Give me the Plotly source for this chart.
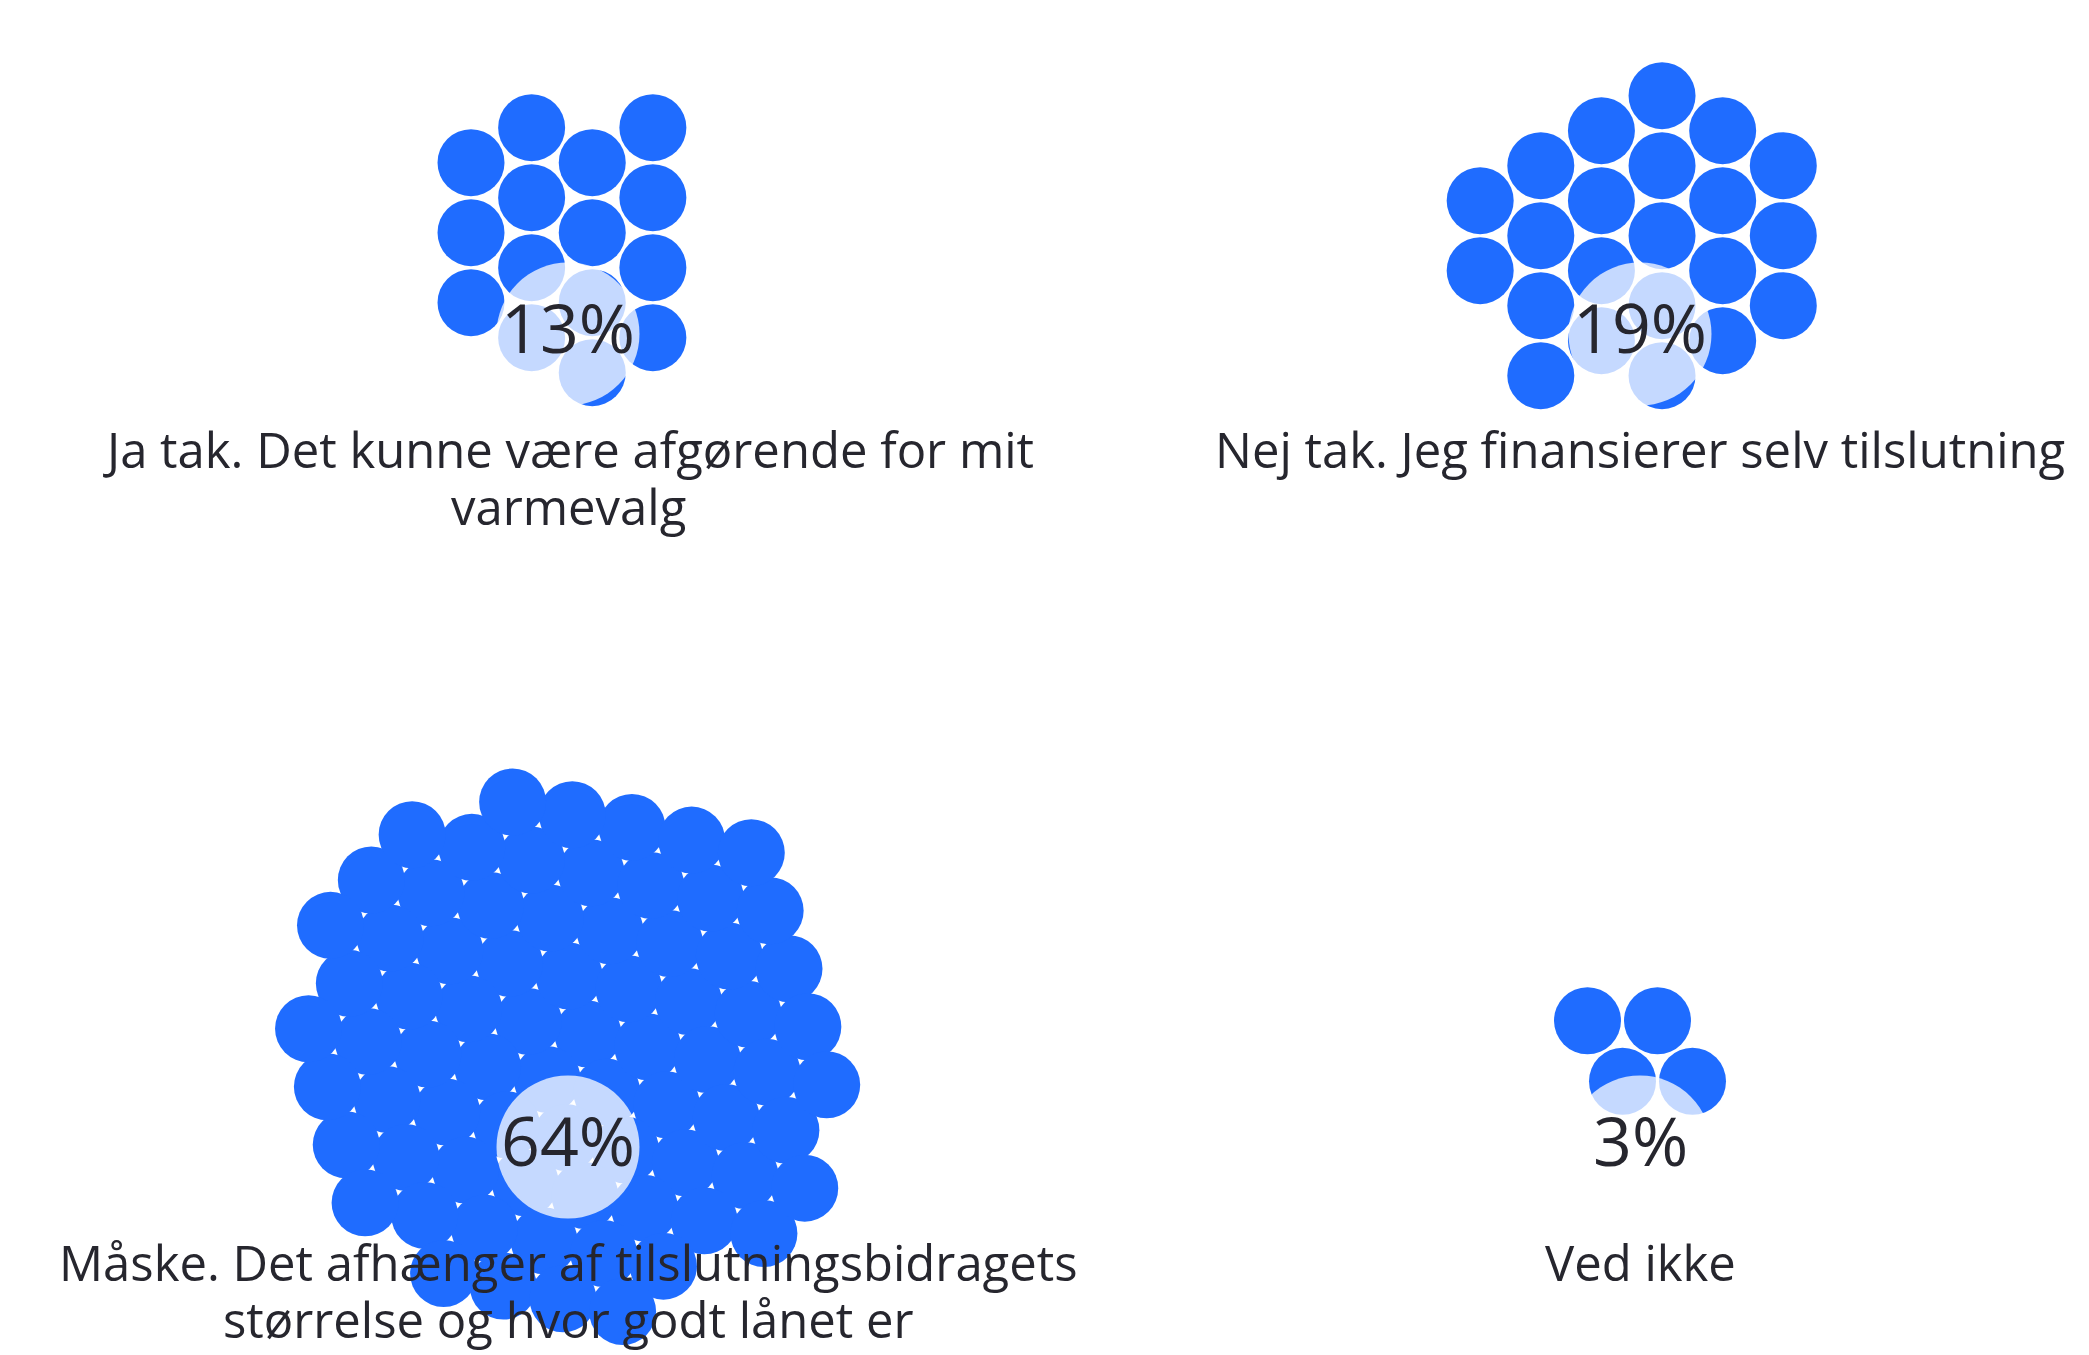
import numpy as np
import plotly.graph_objects as go

# ---- data ----
categories = [
    "Ja tak. Det kunne være afgørende for mit<br>varmevalg",
    "Nej tak. Jeg finansierer selv tilslutning",
    "Måske. Det afhænger af tilslutningsbidragets<br>størrelse og hvor godt lånet er",
    "Ved ikke",
]
respondents = [15, 22, 74, 4]          # one dot per respondent
total = sum(respondents)
percent_labels = [f"{round(100 * c / total)}%" for c in respondents]   # 13%, 19%, 64%, 3%

# ---- layout / style ----
W, H = 2089, 1355
DOT_D = 67                       # dot diameter in px
CENTERS = [(560, 326), (1632, 326), (560, 1139), (1632, 1139)]   # label position of each group
LATTICE_ANGLE = [30, 30, 12, 0]  # degrees
LATTICE_STEP = [70, 70, 61, 70]  # px between neighbouring dots
CLUSTER_DY = [-92, -92, -96, -96]
TITLE_DY = 115
LINE_H = 57
PCT_DY = -8
BLUE = "#1f6cff"
TEXT = "#26262e"
FONT = "Open Sans"


def hex_cluster(n, step, angle_deg):
    """n hexagonal-lattice points closest to a slightly offset origin."""
    rng = range(-12, 13)
    pts = np.array([(i + j / 2.0, j * np.sqrt(3) / 2.0) for i in rng for j in rng])
    off = np.array([-0.22, 0.28])
    d = np.hypot(*(pts - off).T) + 1e-6 * np.arctan2(*(pts - off).T[::-1])
    sel = pts[np.argsort(d)[:n]] * step
    a = np.deg2rad(angle_deg)
    rot = np.array([[np.cos(a), -np.sin(a)], [np.sin(a), np.cos(a)]])
    sel = sel @ rot.T
    return sel - sel.mean(axis=0)


fig = go.Figure()

for k, (cat, cnt, lab) in enumerate(zip(categories, respondents, percent_labels)):
    cx, cy = CENTERS[k]
    pts = hex_cluster(cnt, LATTICE_STEP[k], LATTICE_ANGLE[k])
    fig.add_trace(go.Scatter(
        x=pts[:, 0] + cx, y=pts[:, 1] + cy + CLUSTER_DY[k],
        mode="markers",
        marker=dict(size=DOT_D, color=BLUE, line=dict(width=0)),
        hoverinfo="skip", showlegend=False,
    ))
    # pale label disc
    fig.add_trace(go.Scatter(
        x=[cx], y=[cy], mode="markers",
        marker=dict(size=143, color="rgba(255,255,255,0.74)", line=dict(width=0)),
        hoverinfo="skip", showlegend=False,
    ))
    fig.add_annotation(x=cx, y=cy + PCT_DY, text=lab, showarrow=False,
                       font=dict(family=FONT, size=68, color=TEXT),
                       xanchor="center", yanchor="middle")
    for j, line in enumerate(cat.split("<br>")):
        fig.add_annotation(x=cx, y=cy + TITLE_DY + j * LINE_H, text=line, showarrow=False,
                           font=dict(family=FONT, size=49, color=TEXT),
                           xanchor="center", yanchor="middle")

fig.update_layout(
    width=W, height=H,
    margin=dict(l=0, r=0, t=0, b=0),
    paper_bgcolor="white", plot_bgcolor="white",
    xaxis=dict(range=[0, W], visible=False, fixedrange=True),
    yaxis=dict(range=[H, 0], visible=False, fixedrange=True),
)

fig.write_html("out.html")
